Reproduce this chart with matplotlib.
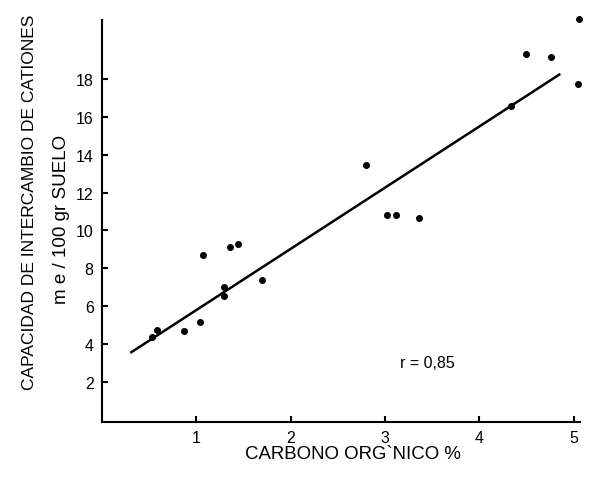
import matplotlib
matplotlib.use("Agg")
import matplotlib.pyplot as plt

# carbono organico (%) vs capacidad de intercambio de cationes (me/100 gr)
carbono = [0.53, 0.58, 0.865, 1.04, 1.067, 1.29, 1.29, 1.356, 1.445, 1.70,
           2.795, 3.025, 3.12, 3.36, 4.34, 4.50, 4.76, 5.05, 5.06]
cic = [4.38, 4.75, 4.68, 5.16, 8.72, 7.01, 6.53, 9.11, 9.29, 7.38,
       13.45, 10.84, 10.80, 10.64, 16.6, 19.34, 19.2, 17.74, 21.2]

# recta de regresion (extremos)
recta_x = [0.30, 4.86]
recta_y = [3.52, 18.28]

x_ticks = [1, 2, 3, 4, 5]
y_ticks = [2, 4, 6, 8, 10, 12, 14, 16, 18]

plt.rcParams["font.family"] = ["Liberation Sans", "DejaVu Sans"]

fig = plt.figure(figsize=(5.95, 4.81), dpi=100)
ax = fig.add_axes([0.1714, 0.1212, 0.8036, 0.8358])

ax.plot(recta_x, recta_y, color="black", lw=1.8, solid_capstyle="butt")
ax.plot(carbono, cic, "o", color="black", ms=4, clip_on=False)

ax.set_xlim(0, 5.07)
ax.set_ylim(-0.12, 21.15)
ax.set_xticks(x_ticks)
ax.set_yticks(y_ticks)
ax.tick_params(direction="in", length=4, width=1.5, labelsize=11.5, pad=6)

for side in ("top", "right"):
    ax.spines[side].set_visible(False)
for side in ("left", "bottom"):
    ax.spines[side].set_linewidth(1.5)

ax.text(3.16, 3.03, "r = 0,85", fontsize=11.5, ha="left", va="center")

fig.text(353 / 595, 1 - 455 / 481, "CARBONO ORG`NICO %", fontsize=13.4,
         ha="center", va="center")
fig.text(30 / 595, 1 - 202 / 481, "CAPACIDAD DE INTERCAMBIO DE CATIONES",
         fontsize=12.5, rotation=90, ha="center", va="center")
fig.text(62 / 595, 1 - 219 / 481, "m e / 100 gr SUELO", fontsize=13.5,
         rotation=90, ha="center", va="center")

fig.savefig("out.png", dpi=100)
